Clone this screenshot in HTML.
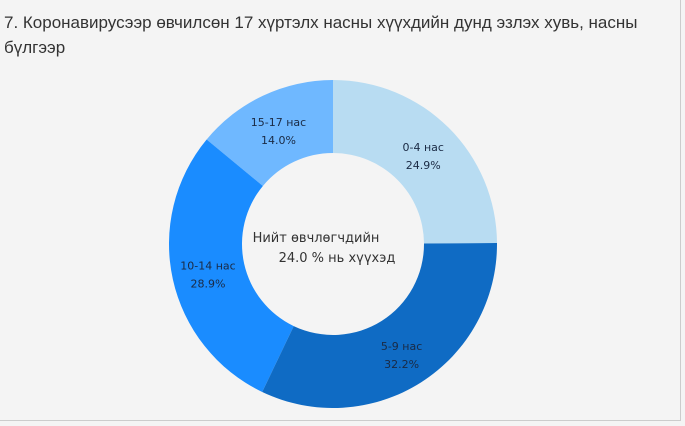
<!DOCTYPE html>
<html><head><meta charset="utf-8"><style>
body{margin:0;width:685px;height:426px;background:#f4f4f4;overflow:hidden;font-family:"Liberation Sans",sans-serif}
#title{position:absolute;left:4px;top:10px;font-size:17px;line-height:25px;color:#333;width:660px}
#vline{position:absolute;left:680px;top:0;width:1px;height:420px;background:#ccc}
#hline{position:absolute;left:0;top:420px;width:681px;height:1px;background:#ccc}
svg{position:absolute;left:0;top:0}
</style></head><body>
<div id="title">7. Коронавирусээр өвчилсөн 17 хүртэлх насны хүүхдийн дунд эзлэх хувь, насны бүлгээр</div>
<div id="vline"></div>
<div id="hline"></div>
<svg id="chart" width="685" height="426">
<text x="316" y="242" font-family="DejaVu Sans, sans-serif" font-size="13" fill="#333" text-anchor="middle">Нийт өвчлөгчдийн</text>
<text x="337" y="262" font-family="DejaVu Sans, sans-serif" font-size="13" fill="#333" text-anchor="middle">24.0 % нь хүүхэд</text>
</svg>
<script>
const categories=["0-4 нас","5-9 нас","10-14 нас","15-17 нас"];
const values=[24.9,32.2,28.9,14.0];
const colors=["#b8dcf2","#0f6bc4","#1a8cff","#6fb8ff"];
const svg=document.getElementById('chart');
const NS="http://www.w3.org/2000/svg";
const cx=333,cy=244,R=164,r=91;
const total=values.reduce((a,b)=>a+b,0);
function pt(a,rad){return [cx+rad*Math.sin(a),cy-rad*Math.cos(a)];}
let acc=0;
values.forEach((v,i)=>{
  const a0=acc/total*2*Math.PI;acc+=v;const a1=acc/total*2*Math.PI;
  const large=(a1-a0)>Math.PI?1:0;
  const p0=pt(a0,R),p1=pt(a1,R),q1=pt(a1,r),q0=pt(a0,r);
  const p=document.createElementNS(NS,'path');
  p.setAttribute('d',`M${p0[0]},${p0[1]}A${R},${R} 0 ${large} 1 ${p1[0]},${p1[1]}L${q1[0]},${q1[1]}A${r},${r} 0 ${large} 0 ${q0[0]},${q0[1]}Z`);
  p.setAttribute('fill',colors[i]);
  
  
  svg.insertBefore(p,svg.firstChild);
  const m=(a0+a1)/2,lp=pt(m,128);
  [categories[i],v.toFixed(1)+"%"].forEach((s,j)=>{
    const t=document.createElementNS(NS,'text');
    t.setAttribute('x',lp[0]);t.setAttribute('y',lp[1]-2+j*18);
    t.setAttribute('text-anchor','middle');t.setAttribute('font-size','11');
    t.setAttribute('font-family','DejaVu Sans, sans-serif');t.setAttribute('fill','#1a2a44');
    t.textContent=s;
    
    
    svg.appendChild(t);
  });
});
</script>
</body></html>
